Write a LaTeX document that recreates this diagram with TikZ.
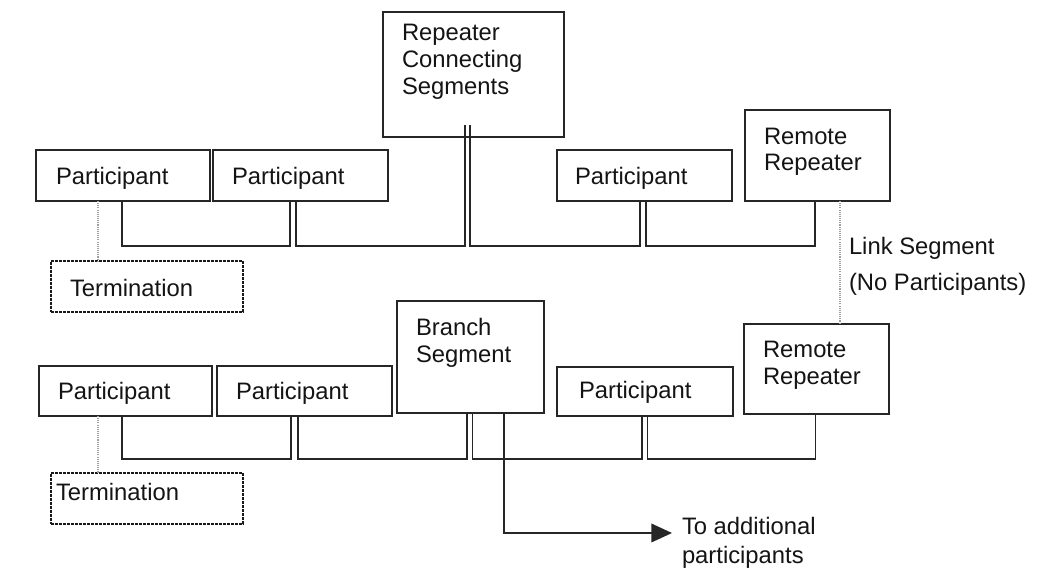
\documentclass[tikz,border=0pt]{standalone}
\usepackage{fontspec}
\setmainfont{Liberation Sans}
\usetikzlibrary{calc,arrows.meta}
\definecolor{linec}{HTML}{262626}
\definecolor{txtc}{HTML}{141414}
\newcommand\labfont{\fontsize{17.85pt}{20.25pt}\selectfont}
\begin{document}
\begin{tikzpicture}[x=0.75pt,y=-0.75pt,
  box/.style={draw=linec, line width=1.5pt, rectangle, inner sep=0pt, outer sep=0pt, anchor=north west},
  termbox/.style={box, draw=black!90, line width=1.5pt, dash pattern=on 2.2pt off 0.8pt},
  conn/.style={draw=linec, line width=1.1pt},
  dots/.style={draw=gray!75, line width=0.9pt, dash pattern=on 0.8pt off 0.8pt},
  lbl/.style={inner sep=0pt, outer sep=0pt, anchor=north west, align=left, font=\labfont, text=txtc}]
\fill[white] (0,0) rectangle (1038,577);
\useasboundingbox (0,0) rectangle (1038,577);
% ---- top row boxes
\node[box, minimum width=181*0.75pt, minimum height=125*0.75pt] (rcs) at (383,12) {};
\node[box, minimum width=174*0.75pt, minimum height=51*0.75pt] (p1t) at (36,150) {};
\node[box, minimum width=175*0.75pt, minimum height=51*0.75pt] (p2t) at (213,150) {};
\node[box, minimum width=175*0.75pt, minimum height=51*0.75pt] (p3t) at (557,150) {};
\node[box, minimum width=145*0.75pt, minimum height=91*0.75pt] (rrt) at (745,110) {};
\node[termbox, minimum width=192*0.75pt, minimum height=51*0.75pt] (termt) at (51,261) {};
% ---- bottom row boxes
\node[box, minimum width=173*0.75pt, minimum height=50*0.75pt] (p1b) at (39,366) {};
\node[box, minimum width=175*0.75pt, minimum height=50*0.75pt] (p2b) at (217,366) {};
\node[box, minimum width=147*0.75pt, minimum height=112*0.75pt] (bs) at (397,301) {};
\node[box, minimum width=176*0.75pt, minimum height=49*0.75pt] (p3b) at (557,367) {};
\node[box, minimum width=145*0.75pt, minimum height=90*0.75pt] (rrb) at (744,324) {};
\node[termbox, minimum width=192*0.75pt, minimum height=51*0.75pt] (termb) at (51,473) {};
% ---- texts
\node[lbl] (rcs-t) at (402,24.5) {Repeater\\Connecting\\Segments};
\node[lbl] (p1t-t) at (56,167.5) {Participant};
\node[lbl] (p2t-t) at (232,167.5) {Participant};
\node[lbl] (p3t-t) at (575,167.5) {Participant};
\node[lbl, font=\fontsize{17.85pt}{19.5pt}\selectfont] (rrt-t) at (764,128.5) {Remote\\Repeater};
\node[lbl] (termt-t) at (70,279.5) {Termination};
\node[lbl, font=\fontsize{17.85pt}{27pt}\selectfont] (link-t) at (849,237.5) {Link Segment\\(No Participants)};
\node[lbl] (p1b-t) at (58,382.5) {Participant};
\node[lbl] (p2b-t) at (236,382.5) {Participant};
\node[lbl] (p3b-t) at (579,381.5) {Participant};
\node[lbl] (bs-t) at (416,318.5) {Branch\\Segment};
\node[lbl] (rrb-t) at (763,341.5) {Remote\\Repeater};
\node[lbl] (termb-t) at (56,483.5) {Termination};
\node[lbl, font=\fontsize{17.85pt}{21.75pt}\selectfont] (add-t) at (682,517.5) {To additional\\participants};
% ---- bus levels
\coordinate (bt) at (0,246);
\coordinate (bb) at (0,459);
% ---- top connectors
\draw[conn] ($(p1t.south west)+(86,0)$) coordinate (a) -- (a |- bt) -| ($(p2t.south west)+(77,0)$);
\draw[conn] ($(p2t.south west)+(83,0)$) coordinate (a) -- (a |- bt) -| ($(rcs.south west)+(82,-12)$);
\draw[conn] ($(rcs.south west)+(87,-12)$) coordinate (a) -- (a |- bt) -| ($(p3t.south west)+(83,0)$);
\draw[conn] ($(p3t.south west)+(89,0)$) coordinate (a) -- (a |- bt) -| ($(rrt.south west)+(70,0)$);
% ---- bottom connectors
\draw[conn] ($(p1b.south west)+(83,0)$) coordinate (a) -- (a |- bb) -| ($(p2b.south west)+(74,0)$);
\draw[conn] ($(p2b.south west)+(81,0)$) coordinate (a) -- (a |- bb) -| ($(bs.south west)+(70,0)$);
\draw[conn] ($(bs.south west)+(75.5,0)$) coordinate (a) -- (a |- bb) -| ($(p3b.south west)+(85,0)$);
\draw[conn] ($(p3b.south west)+(90.5,0)$) coordinate (a) -- (a |- bb) -| ($(rrb.south west)+(71.7,0)$);
% ---- branch arrow
\coordinate (arr) at (672,533);
\draw[conn, -{Triangle[length=15.5pt,width=14pt]}] ($(bs.south west)+(107,-1)$) |- (arr);
% ---- dotted links
\draw[dots] ($(p1t.south west)+(62,0)$) coordinate (d) -- (d |- termt.north);
\draw[dots] ($(p1b.south west)+(59,0)$) coordinate (d) -- (d |- termb.north);
\draw[dots] ($(rrt.south west)+(95,0)$) coordinate (d) -- (d |- rrb.north);
\end{tikzpicture}
\end{document}
